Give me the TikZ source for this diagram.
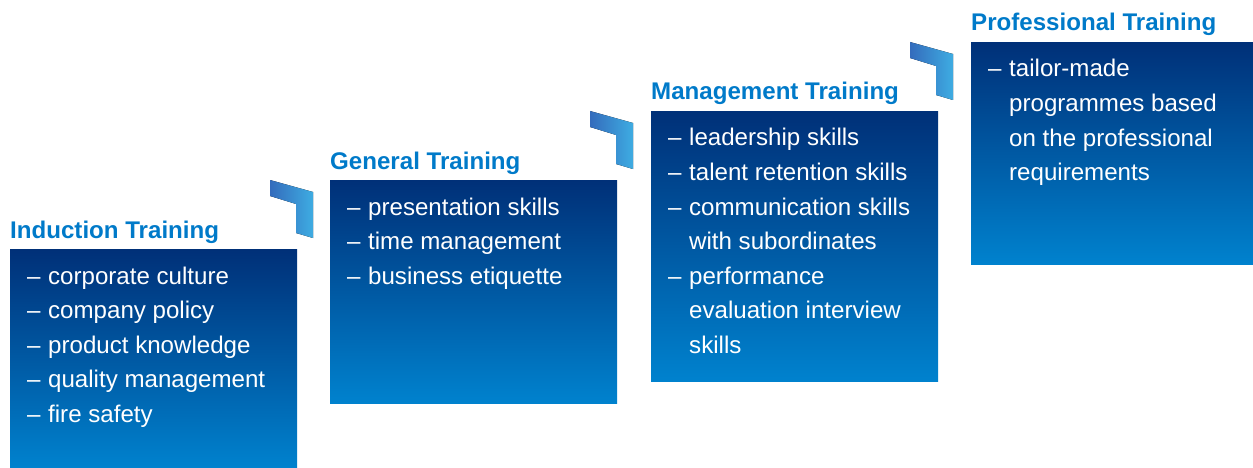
\documentclass[tikz,border=0pt]{standalone}
\usepackage{fontspec}
\setmainfont{Liberation Sans}
\definecolor{titleblue}{RGB}{0,122,201}
\definecolor{boxtop}{RGB}{0,48,120}
\definecolor{boxbot}{RGB}{0,130,206}
\definecolor{chevL}{RGB}{52,108,188}
\definecolor{chevR}{RGB}{62,172,226}
\newcommand\dl[1]{\hbox{\makebox[21pt][l]{–}#1}}
\newcommand\cl[1]{\hbox{\hspace{21pt}#1}}
\newcommand\blist[1]{\vtop{\baselineskip=34.6pt\lineskiplimit=-100pt #1}}
\tikzset{
  stepbox/.style={draw=none, rectangle, anchor=north west, inner sep=0pt,
    top color=boxtop, bottom color=boxbot, middle color=boxtop!50!boxbot},
  steptitle/.style={anchor=base west, inner sep=0pt, text=titleblue,
    font=\fontsize{24.1}{28}\selectfont\bfseries},
  steptext/.style={anchor=base west, inner sep=0pt, text=white,
    font=\fontsize{24.1}{34.6}\selectfont},
  chev/.style={left color=chevL, right color=chevR}
}
\newcommand\chevron[2]{%
  \fill[chev] (#1,#2) -- ++(43,12) -- ++(0,46) -- ++(-17,-5) -- ++(0,-29) -- ++(-26,-8) -- cycle;}
\begin{document}
\begin{tikzpicture}[x=1pt,y=-1pt]
\useasboundingbox (0,0) rectangle (1253,468);
% boxes
\node[stepbox, minimum width=287pt, minimum height=219pt] (b1) at (10,249) {};
\node[stepbox, minimum width=287pt, minimum height=223pt] (b2) at (330,180) {};
\node[stepbox, minimum width=287pt, minimum height=270pt] (b3) at (651,111) {};
\node[stepbox, minimum width=282pt, minimum height=222pt] (b4) at (971,42) {};
% chevrons
\chevron{270}{180}
\chevron{590}{111}
\chevron{910}{42}
% titles
\node[steptitle] (t1) at (10,238) {Induction Training};
\node[steptitle] (t2) at (330,169) {General Training};
\node[steptitle] (t3) at (651,100) {Management Training};
\node[steptitle] (t4) at (971,31) {Professional Training};
% contents
\node[steptext] (c1) at (27,284) {\blist{\dl{corporate culture}\dl{company policy}\dl{product knowledge}\dl{quality management}\dl{fire safety}}};
\node[steptext] (c2) at (347,215) {\blist{\dl{presentation skills}\dl{time management}\dl{business etiquette}}};
\node[steptext] (c3) at (668,146) {\blist{\dl{leadership skills}\dl{talent retention skills}\dl{communication skills}\cl{with subordinates}\dl{performance}\cl{evaluation interview}\cl{skills}}};
\node[steptext] (c4) at (988,77) {\blist{\dl{tailor-made}\cl{programmes based}\cl{on the professional}\cl{requirements}}};
\end{tikzpicture}
\end{document}
